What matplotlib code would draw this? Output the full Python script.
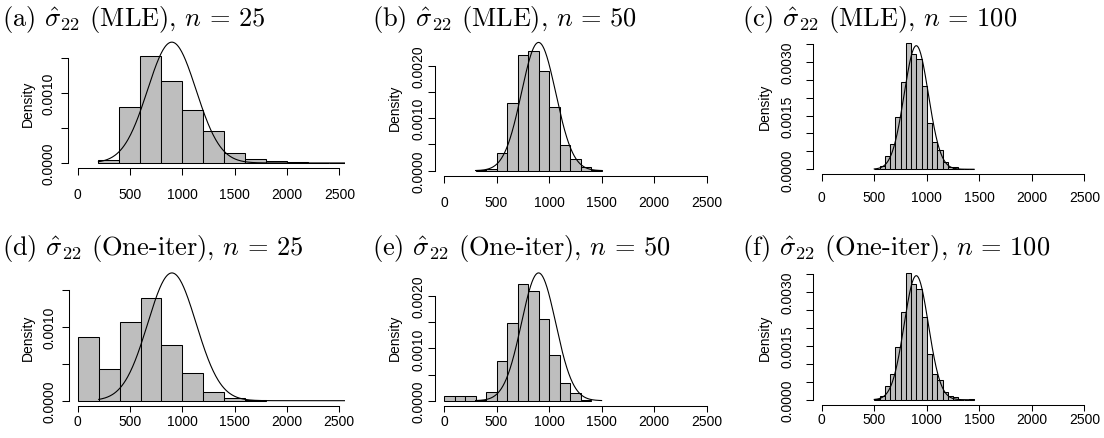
"""
Sampling distribution of sigma_22 hat: MLE vs one-iteration estimator
"""
import numpy as np
import matplotlib
matplotlib.use("Agg")
import matplotlib.pyplot as plt

plt.rcParams['mathtext.fontset'] = 'cm'
plt.rcParams['axes.unicode_minus'] = False

W, H = 1104, 439

# histogram densities (bin starts / widths / heights)
a_start, a_width = 200, 200
a_dens = [0.000048, 0.000805, 0.001524, 0.001171, 0.000757, 0.000452,
          0.000139, 0.000061, 0.000024, 0.000014, 0.000005, 0.000005]

b_start, b_width = 300, 100
b_dens = [0.00001, 0.00003, 0.000337, 0.001283, 0.002203, 0.002273,
          0.001892, 0.001206, 0.000489, 0.000216, 0.000064, 0.000013]

c_start, c_width = 500, 50
c_dens = [0.000019, 0.000102, 0.000382, 0.000708, 0.001471, 0.002449,
          0.00352, 0.00322, 0.00308, 0.002337, 0.001285, 0.000754,
          0.00054, 0.000196, 0.000075, 0.000056, 0.0, 0.0, 0.000019]

d_start, d_width = 0, 200
d_dens = [0.000855, 0.00043, 0.001063, 0.001389, 0.000756, 0.000371,
          0.000113, 0.000032, 0.000014]

e_start, e_width = 0, 100
e_dens = [0.000084, 0.000096, 0.000096, 0.000019, 0.000172, 0.000758,
          0.001478, 0.002229, 0.002096, 0.001554, 0.000879, 0.000331,
          0.000146, 0.000019]

f_start, f_width = 500, 50
f_dens = [0.000028, 0.000111, 0.000381, 0.000706, 0.001467, 0.002442,
          0.003519, 0.003231, 0.003073, 0.002303, 0.001281, 0.000724,
          0.000557, 0.000214, 0.000102, 0.000074, 0.0, 0.0, 0.000019]

# normal reference curve
true_mean = 900
sd_n25, sd_n50, sd_n100 = 231, 163.3, 115.5
curve_from = {25: 200, 50: 300, 100: 500}
curve_to = {25: 2600, 50: 1500, 100: 1450}

titles = [r"(a) $\hat{\sigma}_{22}$ (MLE), $n\,=\,25$",
          r"(b) $\hat{\sigma}_{22}$ (MLE), $n\,=\,50$",
          r"(c) $\hat{\sigma}_{22}$ (MLE), $n\,=\,100$",
          r"(d) $\hat{\sigma}_{22}$ (One-iter), $n\,=\,25$",
          r"(e) $\hat{\sigma}_{22}$ (One-iter), $n\,=\,50$",
          r"(f) $\hat{\sigma}_{22}$ (One-iter), $n\,=\,100$"]

x_ticks = [0, 500, 1000, 1500, 2000, 2500]

# panel layout in pixels: left, top, right, bottom of plot region
rects = [(68.3, 38.3, 345.0, 168.8), (434.8, 38.3, 712.2, 176.8),
         (812.5, 39.3, 1089.9, 175.3), (68.6, 268.8, 344.8, 406.8),
         (434.8, 268.8, 712.2, 406.8), (812.5, 269.3, 1089.9, 405.8)]
title_pos = [(2, 26), (372, 26), (742, 26),
             (2, 255), (372, 255), (742, 255)]
ylab_x = [27.5, 395, 765, 27.5, 395, 765]
ypad = [3.9, 2.0, 7.8, 3.9, 2.0, 7.8]
xpad = [8.6, 8.6, 6.2, 1.5, 1.5, 1.0]

panels = [(a_start, a_width, a_dens, 25, sd_n25),
          (b_start, b_width, b_dens, 50, sd_n50),
          (c_start, c_width, c_dens, 100, sd_n100),
          (d_start, d_width, d_dens, 25, sd_n25),
          (e_start, e_width, e_dens, 50, sd_n50),
          (f_start, f_width, f_dens, 100, sd_n100)]

fig = plt.figure(figsize=(W / 100, H / 100), dpi=100)

for i, (start, width, dens, n, sd) in enumerate(panels):
    l, t, r, b = rects[i]
    ax = fig.add_axes([l / W, 1 - b / H, (r - l) / W, (b - t) / H])

    lefts = start + width * np.arange(len(dens))
    ax.bar(lefts, dens, width=width, align='edge', color='#BEBEBE',
           edgecolor='black', linewidth=0.75)

    xs = np.linspace(curve_from[n], curve_to[n], 400)
    ys = np.exp(-0.5 * ((xs - true_mean) / sd) ** 2) / (sd * np.sqrt(2 * np.pi))
    ax.plot(xs, ys, color='black', linewidth=0.8)

    ymax = max(max(dens), 1 / (sd * np.sqrt(2 * np.pi)))
    ax.set_xlim(-88, 2553)
    ax.set_ylim(-0.04 * ymax, 1.04 * ymax)

    yt = np.arange(0, ymax + 1e-9, 0.0005)
    step = 3 if n == 100 else 2
    ylabels = [f"{v:.4f}" if k % step == 0 else "" for k, v in enumerate(yt)]
    ax.set_yticks(yt)
    ax.set_yticklabels(ylabels, rotation=90, va='center',
                       fontfamily='Liberation Sans', fontsize=10)
    ax.set_xticks(x_ticks)
    ax.set_xticklabels([str(v) for v in x_ticks],
                       fontfamily='Liberation Sans', fontsize=10)

    for side in ['top', 'right']:
        ax.spines[side].set_visible(False)
    ax.spines['left'].set_bounds(0, yt[-1])
    ax.spines['bottom'].set_bounds(0, 2500)
    for side in ['left', 'bottom']:
        ax.spines[side].set_linewidth(0.75)
    ax.tick_params(length=5, width=0.75)
    ax.tick_params(axis='y', pad=ypad[i])
    ax.tick_params(axis='x', pad=xpad[i], length=5 if i < 3 else 4.3)
    ax.patch.set_visible(False)

    fig.text(ylab_x[i] / W, 1 - (t + b) / 2 / H, "Density", rotation=90,
             ha='center', va='center', fontfamily='Liberation Sans',
             fontsize=10)
    fig.text(title_pos[i][0] / W, 1 - title_pos[i][1] / H, titles[i],
             fontfamily='cmr10', fontsize=19, va='baseline', ha='left')

fig.savefig("out.png", dpi=100)
